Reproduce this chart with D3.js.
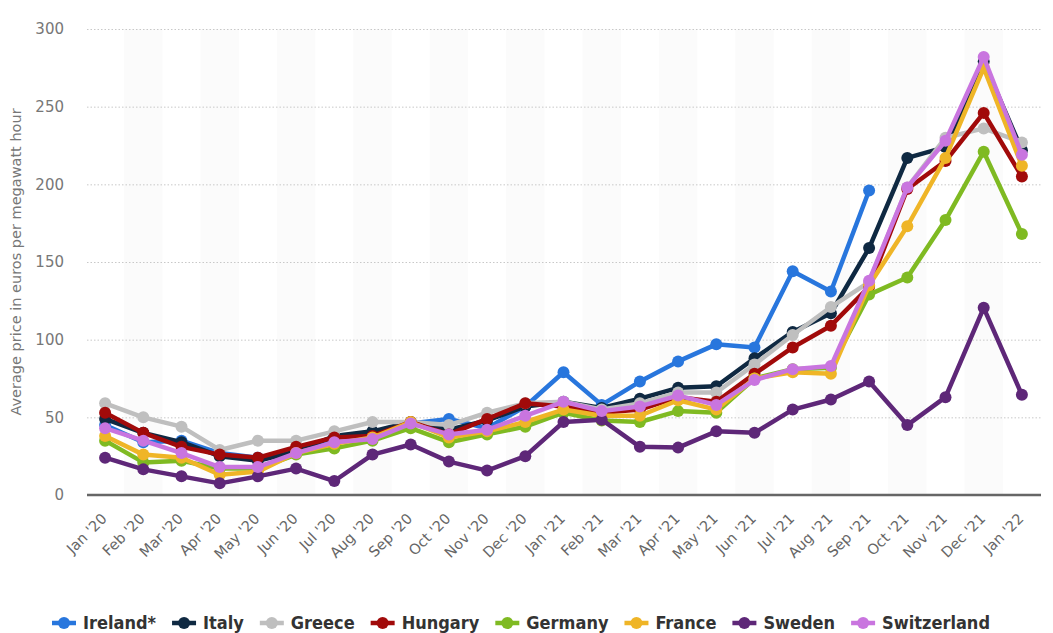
<!DOCTYPE html>
<html><head><meta charset="utf-8">
<script src="https://cdn.jsdelivr.net/npm/d3@7"></script>
<style>body{margin:0;background:#fff}svg{display:block}</style>
</head><body><svg id="c" width="1053" height="633"></svg>
<script>
const months = ["Jan '20","Feb '20","Mar '20","Apr '20","May '20","Jun '20","Jul '20","Aug '20","Sep '20","Oct '20","Nov '20","Dec '20","Jan '21","Feb '21","Mar '21","Apr '21","May '21","Jun '21","Jul '21","Aug '21","Sep '21","Oct '21","Nov '21","Dec '21","Jan '22"];
const yTicks = [0,50,100,150,200,250,300];
const seriesNames = ["Ireland*","Italy","Greece","Hungary","Germany","France","Sweden","Switzerland"];
const seriesColors = ["#2876dd","#0f2942","#bfbfbf","#a10a0a","#7fba22","#efb527","#5e2778","#c975df"];
const ireland = [45,34,35,27,24,28,37,38,46,49,43,57,79,58,73,86,97,95,144,131,196,null,null,null,null];
const italy = [49,40,34,25,22,28,38,41,47,42,48,57,60,56,62,69,70,88,105,117,159,217,224,279,222];
const greece = [59,50,44,29,35,35,41,47,47,45,53,59,60,55,59,66,66,84,103,121,137,198,230,236,227];
const hungary = [53,40,31,26,24,31,37,38,47,39,49,59,57,53,55,63,60,78,95,109,134,197,215,246,205];
const germany = [35,21,22,17,17,26,30,35,43,34,39,44,53,48,47,54,53,75,81,82,129,140,177,221,168];
const france = [38,26,24,13,15,27,33,37,47,37,41,47,55,51,51,61,55,75,79,78,135,173,217,275,212];
const sweden = [24,16.5,12,7.5,12,17,9,26,32.5,21.5,15.7,25,47,48.5,31,30.5,41,40,55,61.5,73,45,63,120.5,64.5];
const switzerland = [43,35,27,18,18,27,34,36,46,39,42,51,60,54,57,64,58,74,81,83,138,198,228,282,219];
const seriesValues = [ireland,italy,greece,hungary,germany,france,sweden,switzerland];

const svg = d3.select("#c");
const x = d3.scaleBand().domain(months).range([86,1041]).padding(0);
const y = d3.scaleLinear().domain([0,300]).range([495,29]);
const cx = d => x(d) + x.bandwidth()/2;

// alternating bands
svg.append("g").selectAll("rect").data(months.filter((m,i)=>i%2===1)).join("rect")
  .attr("x", d=>x(d)).attr("y", y(300)).attr("width", x.bandwidth()).attr("height", y(0)-y(300))
  .attr("fill","#fbfbfb");

// y grid and labels
const yAxis = d3.axisLeft(y).tickValues(yTicks).tickSize(-(1041-87)).tickPadding(23);
const gy = svg.append("g").attr("transform","translate(87,0)").call(yAxis);
gy.select(".domain").remove();
gy.selectAll(".tick line").attr("stroke","#c8c8c8").attr("stroke-dasharray","1.5,2").attr("stroke-width",1);
gy.selectAll(".tick text").attr("fill","#777").attr("font-size","15px").attr("font-family","'DejaVu Sans',sans-serif");
gy.selectAll(".tick").filter(d=>d===0).select("line").remove();

// x axis
const xAxis = d3.axisBottom(x).tickSize(0).tickPadding(0);
const gx = svg.append("g").attr("transform","translate(0,495)").call(xAxis);
gx.select(".domain").attr("stroke","#666").attr("stroke-width",2.5).attr("d","M87,0H1041");
gx.selectAll(".tick text").attr("fill","#666").attr("font-size","14.5px").attr("font-family","'DejaVu Sans',sans-serif")
  .attr("text-anchor","end").attr("x",0).attr("y",0).attr("dy","0.35em").attr("transform","translate(-1,21) rotate(-45)");

// y title
svg.append("text").attr("transform","translate(21,262) rotate(-90)").attr("text-anchor","middle")
  .attr("fill","#777").attr("font-size","14.5px").attr("font-family","'DejaVu Sans',sans-serif")
  .text("Average price in euros per megawatt hour");

// lines
const line = d3.line().defined(d=>d.v!==null).x(d=>cx(d.m)).y(d=>y(d.v));
seriesValues.forEach((vals,si)=>{
  const pts = months.map((m,i)=>({m, v: vals[i]}));
  const g = svg.append("g");
  g.append("path").datum(pts).attr("d",line).attr("fill","none").attr("stroke",seriesColors[si])
    .attr("stroke-width",4.5).attr("stroke-linejoin","round");
  g.selectAll("circle").data(pts.filter(d=>d.v!==null)).join("circle")
    .attr("cx",d=>cx(d.m)).attr("cy",d=>y(d.v)).attr("r",6).attr("fill",seriesColors[si]);
});

// legend
const leg = svg.append("g").attr("transform","translate(0,623)");
const items = [];
seriesNames.forEach((n,i)=>{
  const it = leg.append("g");
  it.append("line").attr("x1",0).attr("x2",24).attr("y1",0).attr("y2",0).attr("stroke",seriesColors[i]).attr("stroke-width",4.5);
  it.append("circle").attr("cx",12).attr("cy",0).attr("r",6).attr("fill",seriesColors[i]);
  const t = it.append("text").attr("x",31).attr("y",0).attr("dy","0.35em").attr("fill","#333")
    .attr("font-size","18px").attr("font-weight","bold").attr("font-family","'DejaVu Sans Condensed','DejaVu Sans',sans-serif").text(n);
  const w = 31 + t.node().getComputedTextLength();
  items.push({it,w});
});
const startX = 52, endX = 990;
const gap = (endX - startX - d3.sum(items,d=>d.w)) / (items.length-1);
let lx = startX;
items.forEach(d=>{ d.it.attr("transform",`translate(${lx},0)`); lx += d.w + gap; });
</script></body></html>
